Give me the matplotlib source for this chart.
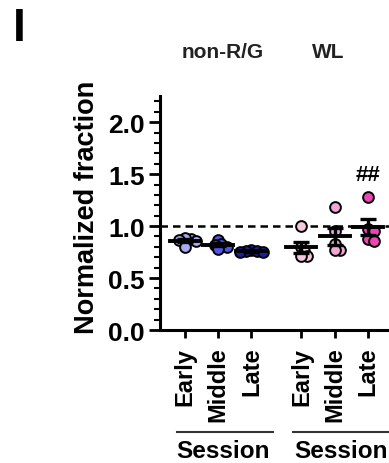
import numpy as np
import matplotlib
matplotlib.use("Agg")
from matplotlib import pyplot as plt
from matplotlib.transforms import blended_transform_factory

plt.rcParams['font.family'] = ['Liberation Sans', 'DejaVu Sans']
plt.rcParams['font.weight'] = 'bold'

sessions = ['Early', 'Middle', 'Late']
groups = ['non-R/G', 'WL']

# normalized fraction per animal
nonrg_early  = [0.88, 0.89, 0.87, 0.86, 0.80]
nonrg_middle = [0.87, 0.83, 0.82, 0.80, 0.78]
nonrg_late   = [0.77, 0.76, 0.76, 0.75, 0.75]
wl_early     = [1.00, 0.80, 0.76, 0.71, 0.71]
wl_middle    = [1.18, 0.95, 0.83, 0.77, 0.77]
wl_late      = [1.28, 0.97, 0.95, 0.88, 0.86]

data = [nonrg_early, nonrg_middle, nonrg_late, wl_early, wl_middle, wl_late]
colors = ['#a9a9f2', '#5454ec', '#1c1ca6', '#f7c6df', '#f2a6d6', '#ec46b2']
xpos = [0, 1, 2, 3.5, 4.5, 5.5]


def swarm(vals, dx=0.17, dy=0.085):
    # simple beeswarm: offsets in x so markers do not pile up
    placed = []
    offs = np.zeros(len(vals))
    for i in np.argsort(vals)[::-1]:
        v = vals[i]
        for k in range(40):
            o = (k + 1) // 2 * 0.5 * (1 if k % 2 else -1)
            ok = all(((o - po)) ** 2 + ((v - pv) / dy) ** 2 >= 0.4 for po, pv in placed)
            if ok:
                break
        placed.append((o, v))
        offs[i] = o * dx
    return offs


fig = plt.figure(figsize=(3.89, 4.64), dpi=100)
ax = fig.add_axes([0.411, 0.2866, 0.589, 0.504])

for x, vals, c in zip(xpos, data, colors):
    vals = np.array(vals)
    ax.scatter(x + swarm(vals), vals, s=60, c=c, edgecolors='black',
               linewidths=1.4, zorder=3)
    m = vals.mean()
    sem = vals.std(ddof=1) / np.sqrt(len(vals))
    ax.plot([x - 0.45, x + 0.45], [m, m], color='black', lw=2.8, zorder=4)
    ax.errorbar(x, m, yerr=sem, fmt='none', ecolor='black', elinewidth=2.4,
                capsize=6, capthick=2.4, zorder=4)

ax.axhline(1.0, color='black', lw=1.8, ls=(0, (3, 2)), zorder=2)

ax.set_xlim(-0.75, 6.13)
ax.set_ylim(0, 2.25)
ax.set_yticks([0, 0.5, 1.0, 1.5, 2.0])
ax.set_yticklabels(['0.0', '0.5', '1.0', '1.5', '2.0'])
ax.set_yticks(np.arange(0, 2.25, 0.1), minor=True)
ax.set_xticks(xpos)
ax.set_xticklabels(sessions * 2, rotation=90, fontsize=17, fontweight='bold')
ax.tick_params(axis='y', labelsize=19, width=2, length=8, pad=3)
ax.tick_params(axis='y', which='minor', width=1.5, length=4)
ax.tick_params(axis='x', width=2, length=6, pad=6)
for lab in ax.get_yticklabels():
    lab.set_fontweight('bold')
for s in ['top', 'right']:
    ax.spines[s].set_visible(False)
for s in ['left', 'bottom']:
    ax.spines[s].set_linewidth(2.2)

fig.text(0.224, 0.554, 'Normalized fraction', rotation=90, ha='center',
         va='center', fontsize=19.5, fontweight='bold')
fig.text(0.032, 0.938, 'I', fontsize=33, fontweight='bold', ha='left', va='center')
fig.text(0.573, 0.886, groups[0], fontsize=15, fontweight='bold', ha='center', va='center', color='#222222')
fig.text(0.843, 0.886, groups[1], fontsize=15, fontweight='bold', ha='center', va='center', color='#222222')
ax.text(5.5, 1.5, '##', fontsize=16, fontweight='bold', ha='center', va='center')

tr = blended_transform_factory(ax.transData, fig.transFigure)
ly = 1 - 433 / 464
ax.plot([-0.24, 2.64], [ly, ly], color='#333333', lw=1.5, transform=tr, clip_on=False)
ax.plot([3.24, 6.6], [ly, ly], color='#333333', lw=1.5, transform=tr, clip_on=False)
ax.text(1.15, 1 - 452 / 464, 'Session', transform=tr, fontsize=17.5,
        fontweight='bold', ha='center', va='center')
ax.text(4.7, 1 - 452 / 464, 'Session', transform=tr, fontsize=17.5,
        fontweight='bold', ha='center', va='center')

fig.savefig('out.png', dpi=100)
